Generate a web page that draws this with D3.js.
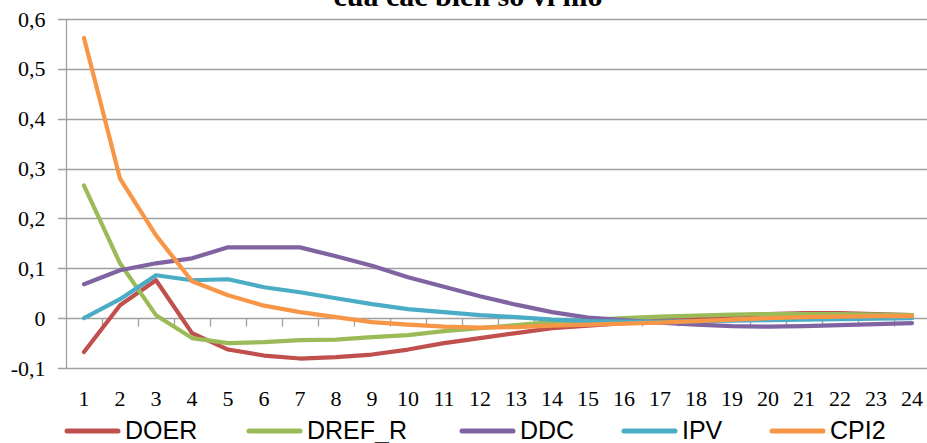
<!DOCTYPE html>
<html>
<head>
<meta charset="utf-8">
<script src="https://cdn.jsdelivr.net/npm/d3@7"></script>
<style>
  html, body { margin: 0; padding: 0; background: #fff; }
  svg { display: block; }
</style>
</head>
<body>
<svg id="chart" width="927" height="443"></svg>
<script>
const titleText = "của các biến số vĩ mô";
const periods = d3.range(1, 25);
const yTicks = [-0.1, 0, 0.1, 0.2, 0.3, 0.4, 0.5, 0.6];
const seriesNames = ["DOER", "DREF_R", "DDC", "IPV", "CPI2"];
const seriesColors = ["#C0504D", "#9BBB59", "#8064A2", "#4BACC6", "#F79646"];

const DOER   = [-0.068, 0.026, 0.076, -0.030, -0.063, -0.075, -0.081, -0.078, -0.073, -0.063, -0.050, -0.040, -0.030, -0.020, -0.015, -0.010, -0.005, 0.000, 0.005, 0.008, 0.010, 0.010, 0.008, 0.006];
const DREF_R = [0.266, 0.110, 0.006, -0.040, -0.050, -0.048, -0.044, -0.043, -0.038, -0.034, -0.026, -0.020, -0.014, -0.008, -0.004, 0.000, 0.003, 0.005, 0.007, 0.008, 0.008, 0.008, 0.007, 0.006];
const DDC    = [0.068, 0.096, 0.110, 0.120, 0.142, 0.142, 0.142, 0.124, 0.105, 0.082, 0.063, 0.044, 0.027, 0.012, 0.001, -0.004, -0.009, -0.013, -0.016, -0.017, -0.016, -0.014, -0.012, -0.010];
const IPV    = [0.000, 0.038, 0.086, 0.076, 0.078, 0.062, 0.052, 0.040, 0.028, 0.018, 0.012, 0.006, 0.002, -0.003, -0.006, -0.007, -0.007, -0.006, -0.005, -0.004, -0.003, -0.002, -0.001, 0.000];
const CPI2   = [0.562, 0.280, 0.166, 0.074, 0.046, 0.025, 0.012, 0.002, -0.008, -0.013, -0.017, -0.019, -0.018, -0.015, -0.013, -0.011, -0.009, -0.006, -0.003, 0.000, 0.002, 0.003, 0.004, 0.004];
const seriesValues = [DOER, DREF_R, DDC, IPV, CPI2];

const svg = d3.select("#chart");
const pLeft = 66, pRight = 930, pTop = 19, pBottom = 368;

const x = d3.scaleBand().domain(periods).range([pLeft, pRight]).padding(0);
const y = d3.scaleLinear().domain([-0.1, 0.6]).range([pBottom, pTop]);
const fmt = v => Math.abs(v) < 1e-9 ? "0" : d3.format(".1f")(v).replace(".", ",").replace("−", "-");
const serif = "'Liberation Serif', 'Times New Roman', serif";

// title (partially cut off at top)
svg.append("text")
  .attr("x", 468).attr("y", 6)
  .attr("text-anchor", "middle")
  .attr("font-family", serif)
  .attr("font-weight", "bold")
  .attr("font-size", 30)
  .attr("fill", "#000")
  .text(titleText);

// gridlines
svg.append("g")
  .selectAll("line").data(yTicks).join("line")
  .attr("x1", pLeft - 8).attr("x2", pRight)
  .attr("y1", d => Math.round(y(d)) + 0.5).attr("y2", d => Math.round(y(d)) + 0.5)
  .attr("stroke", "#A0A0A0").attr("stroke-width", 1.3);

// y axis
const yAxis = d3.axisLeft(y).tickValues(yTicks).tickFormat(fmt).tickSize(0).tickPadding(21);
const gy = svg.append("g").attr("transform", `translate(${pLeft + 0.5},0)`).call(yAxis);
gy.select(".domain").remove();
gy.append("line").attr("x1", 0).attr("x2", 0).attr("y1", pTop).attr("y2", pBottom)
  .attr("stroke", "#A0A0A0").attr("stroke-width", 1.3);
gy.selectAll("text")
  .attr("font-family", serif)
  .attr("font-size", 22).attr("fill", "#000");

// x axis at zero with tick marks at category boundaries
const x0 = Math.round(y(0)) + 0.5;
const boundaries = d3.range(0, periods.length + 1).map(i => pLeft + i * x.bandwidth());
svg.append("g").selectAll("line").data(boundaries.slice(1)).join("line")
  .attr("x1", d => Math.round(d) + 0.5).attr("x2", d => Math.round(d) + 0.5)
  .attr("y1", x0).attr("y2", x0 + 8)
  .attr("stroke", "#A0A0A0").attr("stroke-width", 1.3);

svg.append("g").selectAll("text").data(periods).join("text")
  .attr("x", d => x(d) + x.bandwidth() / 2)
  .attr("y", 406)
  .attr("text-anchor", "middle")
  .attr("font-family", serif)
  .attr("font-size", 22).attr("fill", "#000")
  .text(d => d);

// lines
const line = d3.line()
  .x((d, i) => x(periods[i]) + x.bandwidth() / 2)
  .y(d => y(d));

svg.append("g").selectAll("path").data(seriesValues).join("path")
  .attr("d", d => line(d))
  .attr("fill", "none")
  .attr("stroke", (d, i) => seriesColors[i])
  .attr("stroke-width", 4.2)
  .attr("stroke-linejoin", "round")
  .attr("stroke-linecap", "round");

// legend
const legendX = [65, 247, 460, 622, 770];
const lg = svg.append("g").selectAll("g").data(seriesNames).join("g")
  .attr("transform", (d, i) => `translate(${legendX[i]},431)`);
lg.append("line").attr("x1", 2).attr("x2", 53).attr("y1", 0).attr("y2", 0)
  .attr("stroke", (d, i) => seriesColors[i]).attr("stroke-width", 5).attr("stroke-linecap", "round");
lg.append("text").attr("x", 60).attr("y", 8)
  .attr("font-family", "'Liberation Sans', Arial, sans-serif")
  .attr("font-size", 25).attr("fill", "#000")
  .text(d => d);
</script>
</body>
</html>
